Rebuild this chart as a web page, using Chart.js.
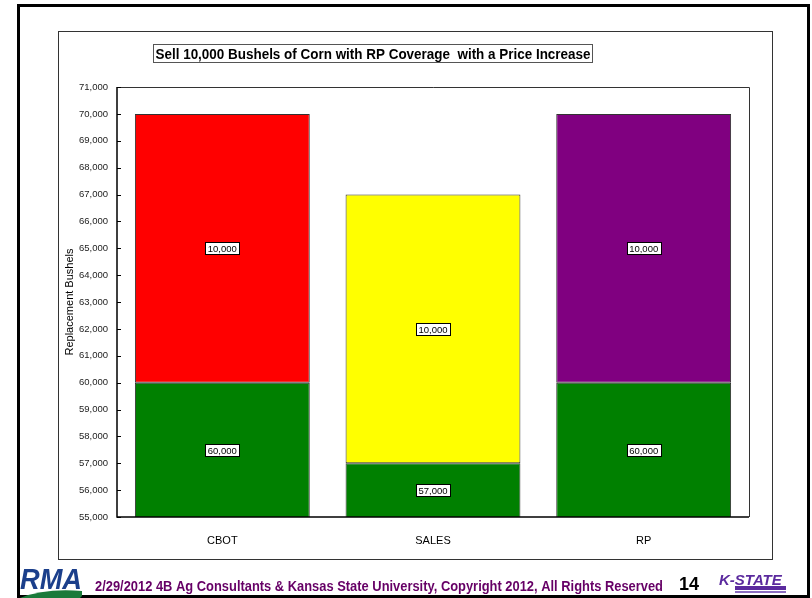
<!DOCTYPE html>
<html>
<head>
<meta charset="utf-8">
<script src="https://cdn.jsdelivr.net/npm/chart.js@4"></script>
<style>
  html, body { margin: 0; padding: 0; background: #fff; }
  #wrap { position: relative; width: 812px; height: 598px; }
</style>
</head>
<body>
<div id="wrap"><canvas id="chart" width="812" height="598"></canvas></div>
<script>
const categories = ['CBOT', 'SALES', 'RP'];
const baseBushels = [60000, 57000, 60000];
const addedBushels = [10000, 10000, 10000];
const addedColors = ['#ff0000', '#ffff00', '#800080'];
const baseColor = '#008000';
const yMin = 55000;
const yMax = 71000;
const yStep = 1000;

const titleText = 'Sell 10,000 Bushels of Corn with RP Coverage  with a Price Increase';
const footerText = '2/29/2012 4B Ag Consultants & Kansas State University, Copyright 2012, All Rights Reserved';
const slideNumber = '14';

const fmt = v => Number(v).toLocaleString('en-US');
const FONT = '"Liberation Sans", Arial, sans-serif';

// slide frame behind everything
const pageFrame = {
  id: 'pageFrame',
  beforeDraw(chart) {
    const ctx = chart.ctx;
    ctx.save();
    ctx.fillStyle = '#fff';
    ctx.fillRect(0, 0, chart.width, chart.height);
    ctx.strokeStyle = '#000';
    ctx.lineWidth = 3;
    ctx.strokeRect(18.5, 5.5, 790, 591);
    ctx.strokeStyle = '#333';
    ctx.lineWidth = 1;
    ctx.strokeRect(58.5, 31.5, 714, 528);
    ctx.restore();
  }
};

// box around plot + small inward ticks on the value axis
const plotBox = {
  id: 'plotBox',
  afterDatasetsDraw(chart) {
    const ctx = chart.ctx;
    const a = chart.chartArea;
    const y = chart.scales.y;
    ctx.save();
    ctx.strokeStyle = '#333';
    ctx.lineWidth = 1;
    ctx.beginPath();
    ctx.moveTo(a.left, a.top + 0.5);
    ctx.lineTo(a.right + 0.5, a.top + 0.5);
    ctx.lineTo(a.right + 0.5, a.bottom);
    ctx.stroke();
    ctx.strokeStyle = '#000';
    ctx.lineWidth = 1.5;
    ctx.beginPath();
    ctx.moveTo(a.left, a.top);
    ctx.lineTo(a.left, a.bottom);
    ctx.lineTo(a.right, a.bottom);
    ctx.stroke();
    ctx.lineWidth = 1;
    y.ticks.forEach(t => {
      const py = Math.round(y.getPixelForValue(t.value)) + 0.5;
      ctx.beginPath();
      ctx.moveTo(a.left, py);
      ctx.lineTo(a.left + 4, py);
      ctx.stroke();
    });
    ctx.restore();
  }
};

// value boxes centred on the visible part of each segment
const segmentLabels = {
  id: 'segmentLabels',
  afterDatasetsDraw(chart) {
    const ctx = chart.ctx;
    const a = chart.chartArea;
    ctx.save();
    ctx.font = '9.5px ' + FONT;
    ctx.textAlign = 'center';
    ctx.textBaseline = 'middle';
    chart.data.datasets.forEach((ds, i) => {
      chart.getDatasetMeta(i).data.forEach((bar, j) => {
        const top = Math.max(bar.y, a.top);
        const bottom = Math.min(bar.base, a.bottom);
        const cy = Math.round((top + bottom) / 2);
        const text = fmt(ds.data[j]);
        const w = Math.round(ctx.measureText(text).width) + 5;
        const h = 12;
        const x0 = Math.round(bar.x - w / 2) + 0.5;
        const y0 = cy - h / 2 + 0.5;
        ctx.fillStyle = '#fff';
        ctx.fillRect(x0, y0, w, h);
        ctx.strokeStyle = '#000';
        ctx.strokeRect(x0, y0, w, h);
        ctx.fillStyle = '#000';
        ctx.fillText(text, bar.x, cy + 1);
      });
    });
    ctx.restore();
  }
};

// boxed title, footer line and logos
const slideText = {
  id: 'slideText',
  afterDraw(chart) {
    const ctx = chart.ctx;
    ctx.save();
    // title
    ctx.fillStyle = '#fff';
    ctx.fillRect(153.5, 44.5, 439, 18);
    ctx.strokeStyle = '#555';
    ctx.lineWidth = 1;
    ctx.strokeRect(153.5, 44.5, 439, 18);
    ctx.fillStyle = '#000';
    ctx.font = 'bold 14.5px ' + FONT;
    ctx.textAlign = 'center';
    ctx.textBaseline = 'alphabetic';
    ctx.fillText(titleText, 373, 58.5, 435);

    // footer
    ctx.fillStyle = '#660066';
    ctx.font = 'bold 15px ' + FONT;
    ctx.textAlign = 'left';
    ctx.fillText(footerText, 95, 591, 568);
    ctx.fillStyle = '#000';
    ctx.font = 'bold 18px ' + FONT;
    ctx.fillText(slideNumber, 679, 590);

    // RMA mark
    ctx.fillStyle = '#1b3f8b';
    ctx.font = 'italic bold 30px ' + FONT;
    ctx.fillText('RMA', 20, 589, 62);
    ctx.fillStyle = '#1a7a3a';
    ctx.beginPath();
    ctx.moveTo(20, 598);
    ctx.quadraticCurveTo(45, 588, 82, 591);
    ctx.lineTo(82, 596);
    ctx.lineTo(80, 598);
    ctx.closePath();
    ctx.fill();

    // K-State mark
    ctx.fillStyle = '#5b2a9e';
    ctx.font = 'italic bold 15px ' + FONT;
    ctx.fillText('K-STATE', 719, 585, 68);
    ctx.fillRect(735, 586, 51, 4);
    ctx.fillStyle = '#8a6cc0';
    ctx.fillRect(735, 591, 51, 2);
    ctx.restore();
  }
};

new Chart(document.getElementById('chart'), {
  type: 'bar',
  data: {
    labels: categories,
    datasets: [
      {
        label: 'Bushels',
        data: baseBushels,
        backgroundColor: baseColor,
        borderColor: '#333',
        borderWidth: 1,
        borderSkipped: false
      },
      {
        label: 'Added',
        data: addedBushels,
        backgroundColor: addedColors,
        borderColor: '#333',
        borderWidth: 1,
        borderSkipped: false
      }
    ]
  },
  options: {
    responsive: false,
    animation: false,
    layout: { padding: { left: 63, right: 63, top: 87, bottom: 51 } },
    datasets: { bar: { barPercentage: 0.83, categoryPercentage: 1 } },
    plugins: { legend: { display: false }, tooltip: { enabled: false } },
    scales: {
      x: {
        stacked: true,
        grid: { display: false },
        border: { display: false },
        ticks: { color: '#000', font: { family: FONT, size: 11 }, padding: 9 },
        afterFit(s) { s.height = 30; }
      },
      y: {
        stacked: true,
        min: yMin,
        max: yMax,
        grid: { display: false, drawTicks: false },
        border: { display: false },
        ticks: {
          stepSize: yStep,
          color: '#222',
          padding: 9,
          font: { family: FONT, size: 9.5 },
          callback: v => fmt(v)
        },
        title: {
          display: true,
          text: 'Replacement Bushels',
          color: '#000',
          padding: 0,
          font: { family: FONT, size: 11 }
        },
        afterFit(s) { s.width = 54; }
      }
    }
  },
  plugins: [pageFrame, plotBox, segmentLabels, slideText]
});
</script>
</body>
</html>
